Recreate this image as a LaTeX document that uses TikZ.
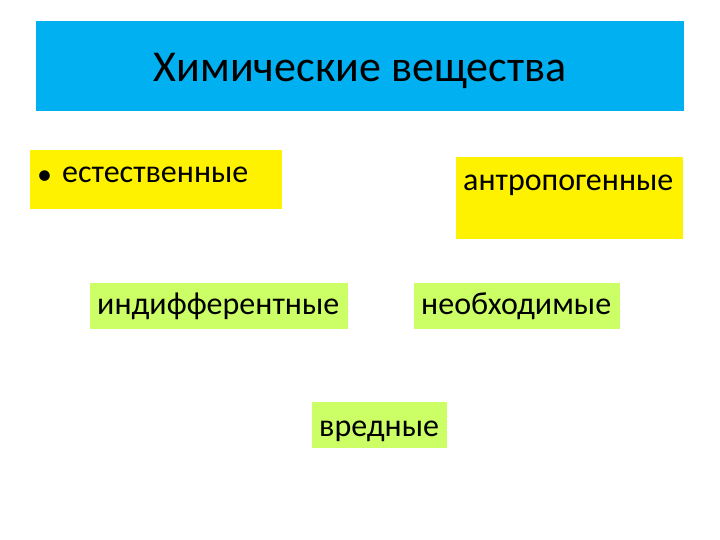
\documentclass[tikz,border=0pt]{standalone}
\usepackage{fontspec}
\setmainfont{Carlito}
\definecolor{titleblue}{HTML}{00B0F0}
\definecolor{lime}{HTML}{CCFF66}
\begin{document}
\begin{tikzpicture}[x=1pt,y=-1pt,
  box/.style={inner sep=0pt,outer sep=0pt,anchor=north west},
  txt/.style={inner sep=0pt,font=\fontsize{32}{36}\selectfont,anchor=base west}]
\useasboundingbox[fill=white] (0,0) rectangle (720,540);
\node[box,fill=titleblue,minimum width=648pt,minimum height=90pt] (title) at (36,21) {};
\node[inner sep=0pt,font=\fontsize{44}{48}\selectfont,anchor=base] (titletext) at (360,82) {Химические вещества};
\node[box,fill=yellow,minimum width=252pt,minimum height=59pt] (nat) at (30,150) {};
\node[inner sep=0pt,font=\fontsize{30}{32}\selectfont,anchor=base west] (bullet) at (37,185) {•};
\node[txt] (nattext) at (62,183) {естественные};
\node[box,fill=yellow,minimum width=227pt,minimum height=82pt] (ant) at (456,157) {};
\node[txt] (anttext) at (463,191) {антропогенные};
\node[box,fill=lime,minimum width=258pt,minimum height=46pt] (ind) at (90,283) {};
\node[txt] (indtext) at (97,314) {индифферентные};
\node[box,fill=lime,minimum width=206pt,minimum height=46pt] (neo) at (414,283) {};
\node[txt] (neotext) at (421,314) {необходимые};
\node[box,fill=lime,minimum width=135pt,minimum height=46pt] (vred) at (312,402) {};
\node[txt] (vredtext) at (319,436) {вредные};
\end{tikzpicture}
\end{document}
